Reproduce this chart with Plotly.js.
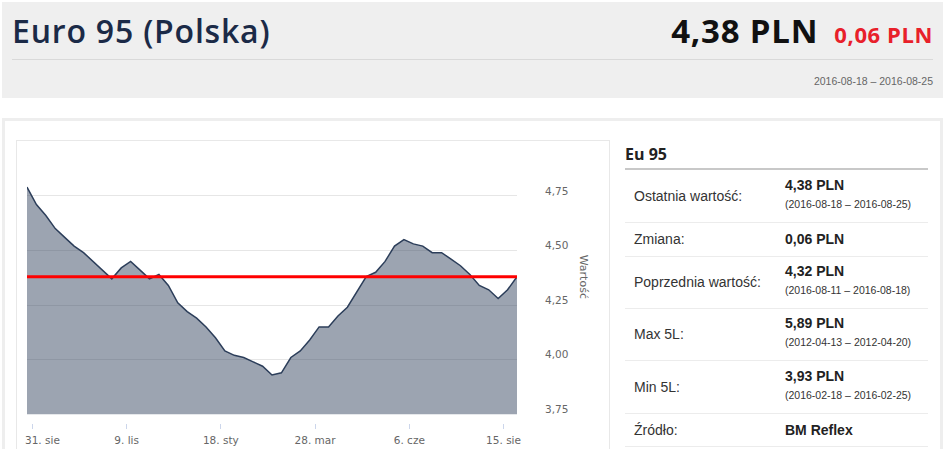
<!DOCTYPE html>
<html>
<head>
<meta charset="utf-8">
<script src="https://cdn.plot.ly/plotly-3.0.1.min.js"></script>
<style>
  html, body { margin: 0; padding: 0; background: #fff; width: 945px; height: 449px; overflow: hidden; font-family: "Liberation Sans", Arial, sans-serif; }
  .abs { position: absolute; white-space: nowrap; }
  #header { position: absolute; left: 2px; top: 2px; width: 941px; height: 96px; background: #efefef; }
  #title { left: 12px; top: 15px; font-family: "Open Sans", sans-serif; font-weight: 600; font-size: 32px; line-height: 32px; color: #1b2a47; letter-spacing: 0.8px; }
  #priceBox { right: 12px; top: 15px; line-height: 32px; font-family: "Open Sans", sans-serif; font-weight: 700; }
  #price { font-size: 33px; color: #111; letter-spacing: 0.8px; }
  #change { font-size: 22px; color: #e8202a; margin-left: 16px; letter-spacing: 0.6px; }
  #hline { left: 12px; top: 59px; width: 921px; height: 1px; background: #d9d9d9; }
  #dates { right: 12px; top: 74px; font-size: 10.5px; line-height: 14px; color: #666; }
  #panel { position: absolute; left: 2px; top: 118px; width: 935px; height: 400px; border: 3px solid #eeeeee; }
  #chartBox { position: absolute; left: 16px; top: 140px; width: 592px; height: 360px; border: 1px solid #e8e8e8; }
  #chart { position: absolute; left: 0px; top: 141px; width: 609px; height: 320px; }
  #eu { left: 625px; top: 146px; font-size: 16px; line-height: 16px; font-weight: 700; color: #222; font-family: "Open Sans", sans-serif; }
  #eline { left: 625px; top: 168px; width: 303px; height: 2px; background: #c8c8c8; }
  .sep { position: absolute; left: 625px; width: 303px; height: 1px; background: #ececec; }
  .lab { position: absolute; left: 634px; font-size: 14px; line-height: 16px; color: #333; white-space: nowrap; }
  .val { position: absolute; left: 785px; font-size: 14px; line-height: 16px; color: #222; font-weight: 700; white-space: nowrap; }
  .sub { position: absolute; left: 785px; font-size: 10.5px; line-height: 12px; color: #333; white-space: nowrap; }
</style>
</head>
<body>
<div id="header"></div>
<div class="abs" id="title"></div>
<div class="abs" id="priceBox"><span id="price"></span><span id="change"></span></div>
<div class="abs" id="hline"></div>
<div class="abs" id="dates"></div>
<div id="panel"></div>
<div id="chartBox"></div>
<div id="chart"></div>
<div class="abs" id="eu"></div>
<div class="abs" id="eline"></div>
<div id="table"></div>
<script>
// ---- data ----
var pageTitle = "Euro 95 (Polska)";
var currentPrice = "4,38 PLN";
var priceChange = "0,06 PLN";
var periodText = "2016-08-18 – 2016-08-25";
var tableTitle = "Eu 95";

var weekDates = [
  "2015-08-27","2015-09-03","2015-09-10","2015-09-17","2015-09-24",
  "2015-10-01","2015-10-08","2015-10-15","2015-10-22","2015-10-29",
  "2015-11-05","2015-11-12","2015-11-19","2015-11-26",
  "2015-12-03","2015-12-10","2015-12-17","2015-12-24","2015-12-31",
  "2016-01-07","2016-01-14","2016-01-21","2016-01-28",
  "2016-02-04","2016-02-11","2016-02-18","2016-02-25",
  "2016-03-03","2016-03-10","2016-03-17","2016-03-24","2016-03-31",
  "2016-04-07","2016-04-14","2016-04-21","2016-04-28",
  "2016-05-05","2016-05-12","2016-05-19","2016-05-26",
  "2016-06-02","2016-06-09","2016-06-16","2016-06-23","2016-06-30",
  "2016-07-07","2016-07-14","2016-07-21","2016-07-28",
  "2016-08-04","2016-08-11","2016-08-18","2016-08-25"
];
var priceValues = [
  4.79, 4.71, 4.66, 4.60, 4.56, 4.52, 4.49, 4.45, 4.41, 4.37,
  4.42, 4.45, 4.41, 4.37, 4.39, 4.34, 4.26, 4.22, 4.19, 4.15,
  4.10, 4.04, 4.02, 4.01, 3.99, 3.97, 3.93, 3.94, 4.01, 4.04,
  4.09, 4.15, 4.15, 4.20, 4.24, 4.31, 4.38, 4.40, 4.45, 4.52,
  4.55, 4.53, 4.52, 4.49, 4.49, 4.46, 4.43, 4.39, 4.34, 4.32,
  4.28, 4.32, 4.38
];
var xTickDates = ["2015-08-31", "2015-11-09", "2016-01-18", "2016-03-28", "2016-06-06", "2016-08-15"];
var xTickLabels = ["31. sie", "9. lis", "18. sty", "28. mar", "6. cze", "15. sie"];
var yTickValues = [3.75, 4.00, 4.25, 4.50, 4.75];
var yTickLabels = ["3,75", "4,00", "4,25", "4,50", "4,75"];
var yRange = [3.75, 4.85];
var yAxisTitle = "Wartość";

var rowLabels = ["Ostatnia wartość:", "Zmiana:", "Poprzednia wartość:", "Max 5L:", "Min 5L:", "Źródło:"];
var rowValues = ["4,38 PLN", "0,06 PLN", "4,32 PLN", "5,89 PLN", "3,93 PLN", "BM Reflex"];
var rowSubs = ["(2016-08-18 – 2016-08-25)", "", "(2016-08-11 – 2016-08-18)", "(2012-04-13 – 2012-04-20)", "(2016-02-18 – 2016-02-25)", ""];

// ---- header ----
document.getElementById("title").textContent = pageTitle;
document.getElementById("price").textContent = currentPrice;
document.getElementById("change").textContent = priceChange;
document.getElementById("dates").textContent = periodText;
document.getElementById("eu").textContent = tableTitle;

// ---- table ----
(function () {
  var rowTops = [170, 222, 256, 308, 360, 413];
  var rowHeights = [52, 34, 52, 52, 53, 33];
  var table = document.getElementById("table");
  for (var i = 0; i < rowLabels.length; i++) {
    var rowTop = rowTops[i], h = rowHeights[i];
    var c = rowTop + h / 2;
    var lab = document.createElement("div");
    lab.className = "lab"; lab.textContent = rowLabels[i];
    lab.style.top = (c - 8) + "px";
    table.appendChild(lab);
    var val = document.createElement("div");
    val.className = "val"; val.textContent = rowValues[i];
    if (rowSubs[i]) {
      val.style.top = (c - 19) + "px";
      var sub = document.createElement("div");
      sub.className = "sub"; sub.textContent = rowSubs[i];
      sub.style.top = (c + 2) + "px";
      table.appendChild(sub);
    } else {
      val.style.top = (c - 8) + "px";
    }
    table.appendChild(val);
    var sep = document.createElement("div");
    sep.className = "sep"; sep.style.top = (rowTop + h) + "px";
    table.appendChild(sep);
  }
})();

// ---- chart ----
var lastValue = priceValues[priceValues.length - 1];
// first label is pushed right so it starts at the plot edge (as in the reference)
var xTickText = xTickLabels.map(function (t, k) {
  return k === 0 ? "\u00a0\u00a0\u00a0\u00a0\u00a0\u00a0" + t : t;
});
var trace = {
  type: "scatter",
  mode: "lines",
  x: weekDates,
  y: priceValues,
  fill: "tozeroy",
  fillcolor: "rgba(44,62,90,0.47)",
  line: { color: "#2c3e5a", width: 1.5 },
  hoverinfo: "none"
};
var layout = {
  width: 609,
  height: 320,
  margin: { l: 27, r: 92, t: 33, b: 38, pad: 0 },
  paper_bgcolor: "rgba(0,0,0,0)",
  plot_bgcolor: "#ffffff",
  showlegend: false,
  xaxis: {
    type: "date",
    range: [weekDates[0], weekDates[weekDates.length - 1]],
    anchor: "free",
    position: 0,
    showgrid: false,
    zeroline: false,
    showline: false,
    ticks: "outside",
    ticklen: 5,
    tickwidth: 1,
    tickcolor: "#ccd6eb",
    tickvals: xTickDates,
    ticktext: xTickText,
    ticklabeloverflow: "allow",
    ticklabelstandoff: 2,
    tickfont: { family: "DejaVu Sans", size: 10.5, color: "#666666" },
    fixedrange: true
  },
  yaxis: {
    side: "right",
    domain: [0.035, 1],
    range: yRange,
    tickvals: yTickValues,
    ticktext: yTickLabels,
    ticks: "",
    ticklabelstandoff: 27,
    ticklabelshift: -5,
    showgrid: true,
    gridcolor: "#e6e6e6",
    gridwidth: 1,
    zeroline: false,
    showline: false,
    tickfont: { family: "DejaVu Sans", size: 10.5, color: "#666666" },
    fixedrange: true
  },
  shapes: [{
    type: "line",
    xref: "paper", x0: 0, x1: 1,
    yref: "y", y0: lastValue, y1: lastValue,
    line: { color: "#ff0000", width: 3 },
    layer: "above"
  }],
  annotations: [{
    text: yAxisTitle,
    xref: "paper", yref: "paper",
    x: 1.1347, y: 0.5876,
    xanchor: "center", yanchor: "middle",
    textangle: 90,
    showarrow: false,
    font: { family: "DejaVu Sans", size: 11, color: "#666666" }
  }]
};
Plotly.newPlot("chart", [trace], layout, { staticPlot: true, displayModeBar: false });
</script>
</body>
</html>
